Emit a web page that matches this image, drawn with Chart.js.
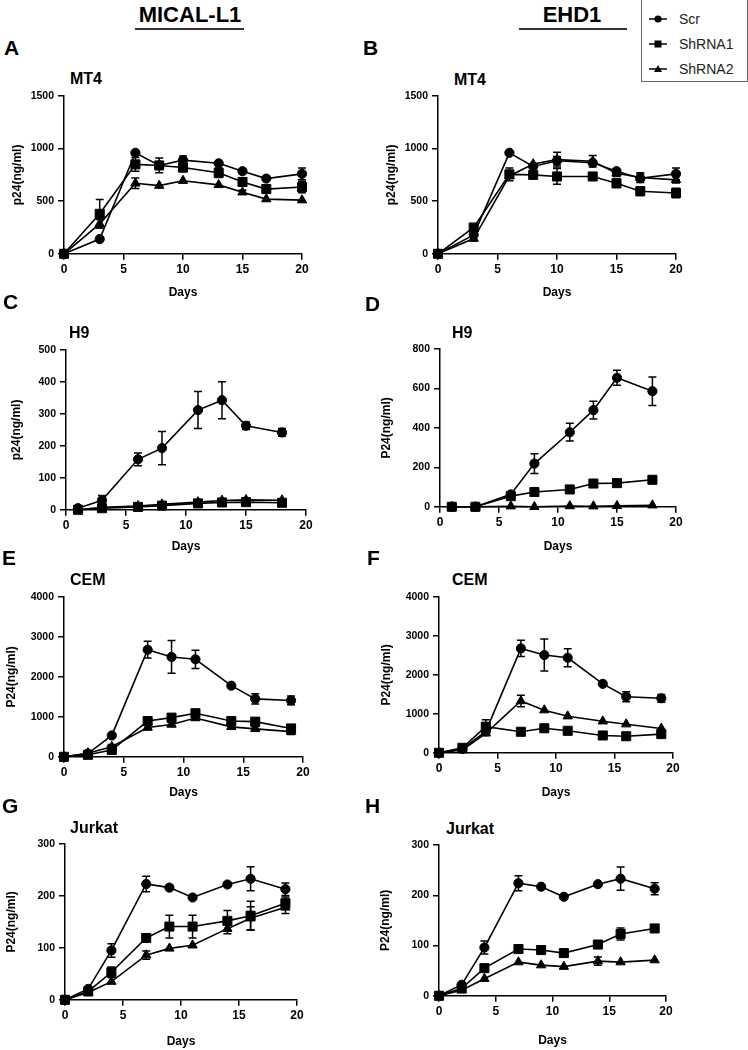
<!DOCTYPE html>
<html lang="en">
<head>
  <meta charset="UTF-8">
  <title>p24 production after MICAL-L1 / EHD1 knockdown</title>
  <script src="https://cdn.jsdelivr.net/npm/chart.js@4.4.1/dist/chart.umd.min.js"></script>
  <style>
    body { margin: 0; width: 748px; height: 1050px; position: relative; background: #fff; overflow: hidden;
           font-family: "Liberation Sans", Arial, sans-serif; color: #000; }
    canvas { position: absolute; }
    .lbl { position: absolute; line-height: 1; transform: translateY(-50%); white-space: nowrap; font-weight: bold; }
    .letter { font-size: 21px; }
    .ptitle { font-size: 16px; }
    .head { font-size: 22px; transform: translate(-50%, -50%); }
    .rule { position: absolute; height: 1.5px; background: #333; }
    #legend { position: absolute; left: 641px; top: -1px; width: 105px; height: 81px; border: 1px solid #666; background: #fff; }
    #legend .row { position: absolute; left: 5px; height: 16px; transform: translateY(-50%); }
    #legend svg { position: absolute; left: 0; top: 0; }
    #legend span { position: absolute; left: 32px; top: 0; font-size: 14px; line-height: 16px; color: #222; }
  </style>
</head>
<body>
  <div class="lbl head" style="left:190px; top:15px;">MICAL-L1</div>
  <div class="rule" style="left:135px; top:28px; width:109px;"></div>
  <div class="lbl head" style="left:572px; top:15px;">EHD1</div>
  <div class="rule" style="left:519px; top:28px; width:108px;"></div>

  <div id="legend">
    <div class="row" style="top:19px;">
      <svg width="24" height="16"><line x1="2" y1="8" x2="20" y2="8" stroke="#000" stroke-width="1.5"/><circle cx="11" cy="8" r="3.6" fill="#000"/></svg>
      <span>Scr</span>
    </div>
    <div class="row" style="top:44px;">
      <svg width="24" height="16"><line x1="2" y1="8" x2="20" y2="8" stroke="#000" stroke-width="1.5"/><rect x="7.5" y="4.5" width="7" height="7" fill="#000"/></svg>
      <span>ShRNA1</span>
    </div>
    <div class="row" style="top:69px;">
      <svg width="24" height="16"><line x1="2" y1="8" x2="20" y2="8" stroke="#000" stroke-width="1.5"/><polygon points="11,4 15,11 7,11" fill="#000"/></svg>
      <span>ShRNA2</span>
    </div>
  </div>

  <script>
    // ---- data (days post infection, p24 in ng/ml, +/- error) ----
    const daysMT4 = [0, 3, 6, 8, 10, 13, 15, 17, 20];
    const daysH9 = [1, 3, 6, 8, 11, 13, 15, 18];
    const daysLate = [0, 2, 4, 7, 9, 11, 14, 16, 19];

    // A: MT4, MICAL-L1
    const scrA = [0, 140, 960, 840, 890, 860, 785, 715, 760];
    const scrAErr = [0, 0, 0, 0, 40, 15, 0, 0, 55];
    const sh1A = [0, 380, 850, 840, 820, 770, 683, 615, 635];
    const sh1AErr = [0, 135, 65, 70, 40, 45, 40, 0, 55];
    const sh2A = [0, 285, 670, 648, 695, 655, 585, 520, 510];
    const sh2AErr = [0, 40, 50, 0, 0, 0, 20, 0, 0];

    // B: MT4, EHD1
    const scrB = [0, 180, 960, 830, 885, 865, 785, 718, 760];
    const scrBErr = [0, 0, 0, 0, 40, 0, 20, 40, 55];
    const sh1B = [0, 250, 755, 750, 735, 735, 670, 595, 578];
    const sh1BErr = [0, 20, 60, 0, 75, 0, 40, 40, 45];
    const sh2B = [0, 145, 740, 853, 895, 880, 765, 725, 703];
    const sh2BErr = [0, 20, 0, 0, 70, 55, 30, 45, 30];

    // C: H9, MICAL-L1
    const scrC = [5, 30, 158, 193, 312, 343, 263, 242];
    const scrCErr = [0, 15, 20, 52, 58, 58, 12, 12];
    const sh1C = [0, 5, 9, 13, 20, 23, 24, 22];
    const sh1CErr = [0, 0, 0, 0, 0, 0, 0, 0];
    const sh2C = [0, 8, 12, 17, 24, 29, 31, 30];
    const sh2CErr = [0, 0, 0, 0, 0, 0, 0, 0];

    // D: H9, EHD1
    const scrD = [0, 0, 63, 219, 378, 490, 654, 586];
    const scrDErr = [0, 0, 0, 50, 45, 45, 38, 72];
    const sh1D = [0, 0, 54, 75, 88, 118, 120, 137];
    const sh1DErr = [0, 0, 0, 0, 0, 0, 0, 0];
    const sh2D = [0, 0, 3, 0, 4, 3, 5, 8];
    const sh2DErr = [0, 0, 0, 0, 0, 0, 0, 0];

    // E: CEM, MICAL-L1
    const scrE = [0, 80, 535, 2680, 2500, 2440, 1780, 1450, 1410];
    const scrEErr = [0, 0, 0, 210, 410, 230, 0, 130, 110];
    const sh1E = [0, 50, 170, 895, 980, 1090, 895, 880, 710];
    const sh1EErr = [0, 0, 60, 110, 80, 60, 60, 80, 70];
    const sh2E = [0, 90, 250, 735, 810, 970, 750, 700, 630];
    const sh2EErr = [0, 0, 60, 60, 50, 40, 40, 50, 70];

    // F: CEM, EHD1
    const scrF = [0, 100, 550, 2680, 2510, 2440, 1770, 1440, 1400];
    const scrFErr = [0, 0, 0, 210, 410, 230, 0, 130, 100];
    const sh1F = [0, 128, 670, 540, 630, 565, 445, 425, 480];
    const sh1FErr = [0, 0, 180, 0, 0, 0, 0, 0, 60];
    const sh2F = [0, 70, 500, 1330, 1095, 940, 810, 735, 625];
    const sh2FErr = [0, 0, 0, 150, 0, 0, 0, 0, 0];

    // G: Jurkat, MICAL-L1
    const scrG = [0, 21, 95, 223, 216, 197, 222, 233, 213];
    const scrGErr = [0, 0, 13, 15, 0, 0, 0, 23, 12];
    const sh1G = [0, 16, 53, 119, 141, 141, 152, 162, 186];
    const sh1GErr = [0, 0, 10, 0, 22, 22, 20, 28, 12];
    const sh2G = [0, 14, 35, 86, 99, 105, 137, 157, 178];
    const sh2GErr = [0, 0, 0, 8, 0, 0, 10, 22, 12];

    // H: Jurkat, EHD1
    const scrH = [0, 22, 96, 224, 217, 197, 222, 233, 213];
    const scrHErr = [0, 0, 13, 15, 0, 0, 0, 23, 12];
    const sh1H = [0, 15, 55, 93, 91, 85, 102, 123, 134];
    const sh1HErr = [0, 0, 0, 0, 0, 0, 0, 12, 0];
    const sh2H = [0, 11, 34, 67, 61, 58, 69, 67, 71];
    const sh2HErr = [0, 0, 0, 0, 0, 0, 8, 0, 0];

    const seriesNames = ['Scr', 'ShRNA1', 'ShRNA2'];

    // ---- layout: where each plot area sits on the page ----
    const FONT = '"Liberation Sans", Arial, sans-serif';
    const panels = [
      { letter: 'A', title: 'MT4', yLabel: 'p24(ng/ml)', yMax: 1500, yStep: 500, days: daysMT4,
        series: [[scrA, scrAErr], [sh1A, sh1AErr], [sh2A, sh2AErr]],
        col: 0, L: 64, R: 302, T: 96, B: 254, dGap: 39, yTx: 18, letterX: 4, letterY: 47, titleX: 70, titleY: 79 },
      { letter: 'B', title: 'MT4', yLabel: 'p24(ng/ml)', yMax: 1500, yStep: 500, days: daysMT4,
        series: [[scrB, scrBErr], [sh1B, sh1BErr], [sh2B, sh2BErr]],
        col: 374, L: 438, R: 676, T: 96, B: 254, dGap: 39, yTx: 18, letterX: 363, letterY: 47, titleX: 454, titleY: 80 },
      { letter: 'C', title: 'H9', yLabel: 'p24(ng/ml)', yMax: 500, yStep: 100, days: daysH9,
        series: [[scrC, scrCErr], [sh1C, sh1CErr], [sh2C, sh2CErr]],
        col: 0, L: 66, R: 306, T: 350, B: 510, dGap: 37, yTx: 17, letterX: 3, letterY: 301, titleX: 69, titleY: 333 },
      { letter: 'D', title: 'H9', yLabel: 'P24(ng/ml)', yMax: 800, yStep: 200, days: daysH9,
        series: [[scrD, scrDErr], [sh1D, sh1DErr], [sh2D, sh2DErr]],
        col: 374, L: 440, R: 676, T: 349, B: 507, dGap: 40, yTx: 13, letterX: 365, letterY: 303, titleX: 452, titleY: 333 },
      { letter: 'E', title: 'CEM', yLabel: 'P24(ng/ml)', yMax: 4000, yStep: 1000, days: daysLate,
        series: [[scrE, scrEErr], [sh1E, sh1EErr], [sh2E, sh2EErr]],
        col: 0, L: 64, R: 303, T: 597, B: 757, dGap: 36, yTx: 12, letterX: 2, letterY: 557, titleX: 70, titleY: 580 },
      { letter: 'F', title: 'CEM', yLabel: 'P24(ng/ml)', yMax: 4000, yStep: 1000, days: daysLate,
        series: [[scrF, scrFErr], [sh1F, sh1FErr], [sh2F, sh2FErr]],
        col: 374, L: 439, R: 673, T: 597, B: 753, dGap: 40, yTx: 13, letterX: 367, letterY: 557, titleX: 452, titleY: 580 },
      { letter: 'G', title: 'Jurkat', yLabel: 'P24(ng/ml)', yMax: 300, yStep: 100, days: daysLate,
        series: [[scrG, scrGErr], [sh1G, sh1GErr], [sh2G, sh2GErr]],
        col: 0, L: 65, R: 297, T: 844, B: 1000, dGap: 42, yTx: 12, letterX: 2, letterY: 805, titleX: 70, titleY: 828 },
      { letter: 'H', title: 'Jurkat', yLabel: 'P24(ng/ml)', yMax: 300, yStep: 100, days: daysLate,
        series: [[scrH, scrHErr], [sh1H, sh1HErr], [sh2H, sh2HErr]],
        col: 374, L: 439, R: 666, T: 845, B: 996, dGap: 45, yTx: 12, letterX: 365, letterY: 805, titleX: 446, titleY: 829 }
    ];

    const markerStyles = [
      { pointStyle: 'circle', pointRadius: 4.6 },
      { pointStyle: 'rect', pointRadius: 6.4 },
      { pointStyle: 'triangle', pointRadius: 5.4 }
    ];

    // vertical error bars, drawn with the chart's own scales
    const errorBars = {
      id: 'errorBars',
      beforeDatasetsDraw(chart) {
        const ctx = chart.ctx, xs = chart.scales.x, ys = chart.scales.y;
        ctx.save();
        ctx.strokeStyle = '#000';
        ctx.lineWidth = 1.5;
        chart.data.datasets.forEach(ds => {
          ds.data.forEach((p, i) => {
            const e = ds.err[i];
            if (!e) return;
            const px = xs.getPixelForValue(p.x);
            const top = ys.getPixelForValue(p.y + e);
            const bot = ys.getPixelForValue(Math.max(0, p.y - e));
            ctx.beginPath();
            ctx.moveTo(px, top); ctx.lineTo(px, bot);
            ctx.moveTo(px - 4, top); ctx.lineTo(px + 4, top);
            ctx.moveTo(px - 4, bot); ctx.lineTo(px + 4, bot);
            ctx.stroke();
          });
        });
        ctx.restore();
      }
    };

    function addText(cls, text, x, y) {
      const d = document.createElement('div');
      d.className = 'lbl ' + cls;
      d.textContent = text;
      d.style.left = x + 'px';
      d.style.top = y + 'px';
      document.body.appendChild(d);
    }

    const PAD_TOP = 14;

    panels.forEach(p => {
      addText('letter', p.letter, p.letterX, p.letterY);
      addText('ptitle', p.title, p.titleX, p.titleY);

      const xH = p.dGap + 7.2;
      const canvas = document.createElement('canvas');
      canvas.width = 374;
      canvas.height = PAD_TOP + (p.B - p.T) + xH;
      canvas.style.left = p.col + 'px';
      canvas.style.top = (p.T - PAD_TOP) + 'px';
      document.body.appendChild(canvas);

      const datasets = p.series.map(([vals, errs], k) => ({
        label: seriesNames[k],
        data: p.days.map((d, i) => ({ x: d, y: vals[i] })),
        err: errs,
        borderColor: '#000',
        backgroundColor: '#000',
        borderWidth: 1.6,
        pointBackgroundColor: '#000',
        pointBorderColor: '#000',
        pointBorderWidth: 1,
        pointStyle: markerStyles[k].pointStyle,
        pointRadius: markerStyles[k].pointRadius,
        tension: 0,
        clip: false
      }));

      new Chart(canvas.getContext('2d'), {
        type: 'line',
        data: { datasets },
        options: {
          responsive: false,
          animation: false,
          layout: { padding: { left: 0, top: PAD_TOP, right: 374 - (p.R - p.col), bottom: 0 } },
          plugins: { legend: { display: false }, tooltip: { enabled: false } },
          scales: {
            x: {
              type: 'linear', min: 0, max: 20,
              ticks: { stepSize: 5, color: '#000', padding: 3, maxRotation: 0,
                       font: { family: FONT, size: 12, weight: 'bold' } },
              grid: { drawOnChartArea: false, drawTicks: true, tickLength: 6, color: '#000', lineWidth: 1.5 },
              border: { color: '#000', width: 1.5 },
              title: { display: true, text: 'Days', color: '#000', padding: 0,
                       font: { family: FONT, size: 12, weight: 'bold' } },
              afterFit: s => { s.height = xH; }
            },
            y: {
              type: 'linear', min: 0, max: p.yMax,
              ticks: { stepSize: p.yStep, color: '#000', padding: 4,
                       callback: v => String(v),
                       font: { family: FONT, size: 10.5, weight: 'bold' } },
              grid: { drawOnChartArea: false, drawTicks: true, tickLength: 6, color: '#000', lineWidth: 1.5 },
              border: { color: '#000', width: 1.5 },
              title: { display: true, text: p.yLabel, color: '#000', padding: { top: p.yTx - 7.2, bottom: 0 },
                       font: { family: FONT, size: 12, weight: 'bold' } },
              afterFit: s => { s.width = p.L - p.col; }
            }
          }
        },
        plugins: [errorBars]
      });
    });
  </script>
</body>
</html>
